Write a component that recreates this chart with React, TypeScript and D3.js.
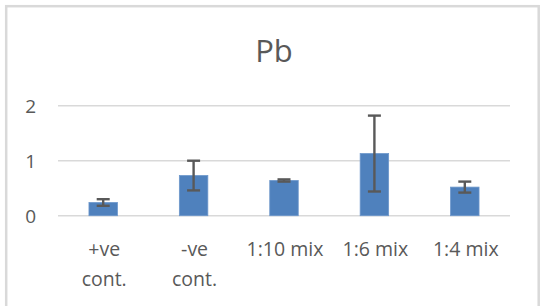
import React from "react";
import * as d3 from "d3";

const categories: string[][] = [["+ve", "cont."], ["-ve", "cont."], ["1:10 mix"], ["1:6 mix"], ["1:4 mix"]];
const values: number[] = [0.24, 0.73, 0.64, 1.13, 0.52];
const errors: number[] = [0.06, 0.27, 0.02, 0.69, 0.1];
const yTicks: number[] = [0, 1, 2];
const title = "Pb";

export default function App() {
  const W = 544, H = 306;
  const left = 58, right = 510, top = 105.7, bottom = 215.7;
  const x = d3.scaleBand<number>().domain(d3.range(categories.length)).range([left, right]).paddingInner(0.685).paddingOuter(0.3425);
  const y = d3.scaleLinear().domain([0, 2]).range([bottom, top]);
  const font = "'Open Sans', 'DejaVu Sans', sans-serif";
  const txt = "#595959";
  const cap = 6.5;
  return (
    <svg width={W} height={H} style={{ position: "absolute", left: 0, top: 0, background: "#fff" }}>
      <rect x={0} y={0} width={W} height={H} fill="#fff" />
      <rect x={6.2} y={6.2} width={532.5} height={320} fill="none" stroke="#d9d9d9" strokeWidth={2.5} />
      <text x={274} y={62} textAnchor="middle" fontFamily={font} fontSize={31} fill={txt}>{title}</text>
      {yTicks.map((t) => (
        <g key={t}>
          <line x1={left} x2={right} y1={y(t)} y2={y(t)} stroke="#d9d9d9" strokeWidth={1.5} />
          <text x={36} y={y(t)} dy="0.36em" textAnchor="end" fontFamily={font} fontSize={19} fill={txt}>{t}</text>
        </g>
      ))}
      {values.map((v, i) => {
        const cx = (x(i) as number) + x.bandwidth() / 2;
        return (
          <g key={i}>
            <rect x={x(i)} y={y(v)} width={x.bandwidth()} height={y(0) - y(v)} fill="#4f81bd" stroke="#6d97cb" strokeWidth={0.8} />
            <line x1={cx} x2={cx} y1={y(v + errors[i])} y2={y(v - errors[i])} stroke="#595959" strokeWidth={2.4} />
            <line x1={cx - cap} x2={cx + cap} y1={y(v + errors[i])} y2={y(v + errors[i])} stroke="#595959" strokeWidth={2.4} />
            <line x1={cx - cap} x2={cx + cap} y1={y(v - errors[i])} y2={y(v - errors[i])} stroke="#595959" strokeWidth={2.4} />
            {categories[i].map((line, j) => (
              <text key={j} x={cx + 1} y={256 + j * 30} textAnchor="middle" fontFamily={font} fontSize={19.5} fill={txt}>{line}</text>
            ))}
          </g>
        );
      })}
    </svg>
  );
}
